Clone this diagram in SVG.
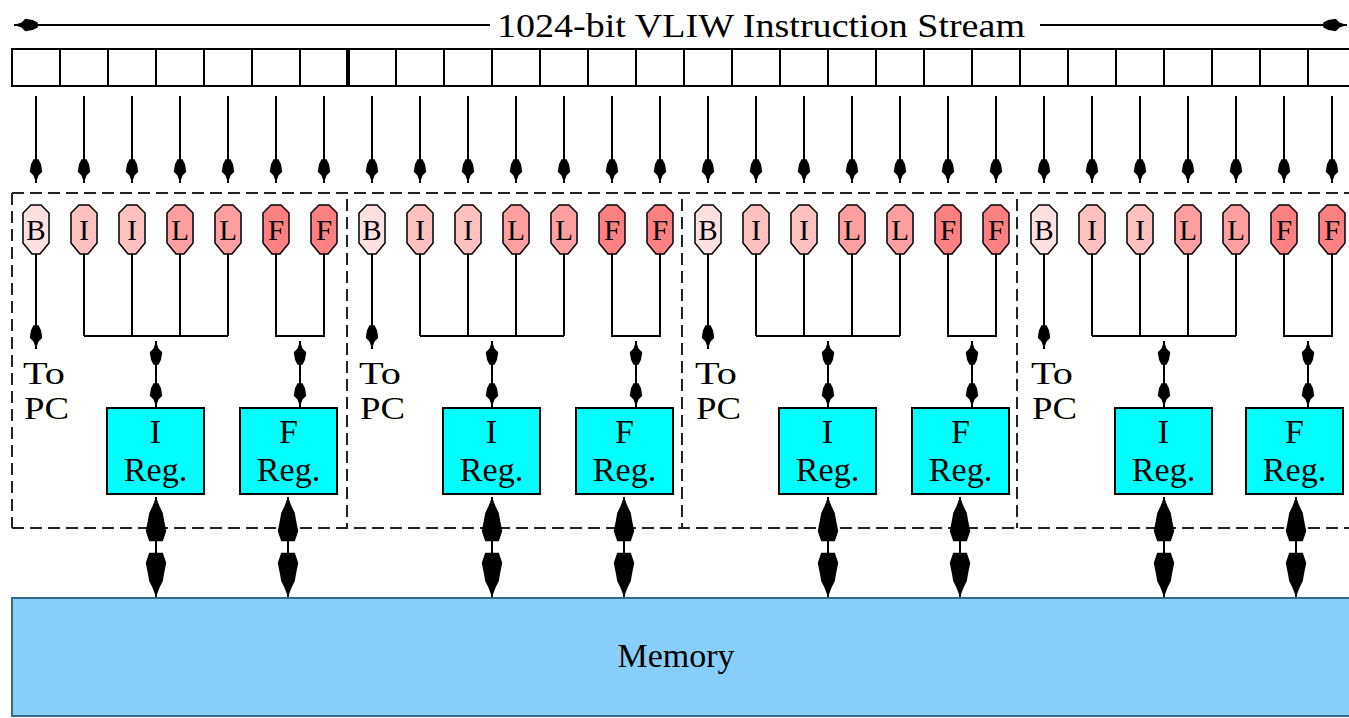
<svg xmlns="http://www.w3.org/2000/svg" xmlns:xlink="http://www.w3.org/1999/xlink" width="1349" height="718" viewBox="0 0 1349 718">
<style>
.ln{stroke:#000;stroke-width:2;fill:none}
.dash{stroke:#222;stroke-width:2;fill:none;stroke-dasharray:12 6}
.t{font-family:"Liberation Serif","Times New Roman",serif;fill:#000}
.pc{font-family:"Liberation Serif","Times New Roman",serif;fill:#000;font-size:31px}
.ov{stroke:#000;stroke-width:1.5}
.B{fill:#ffe0e0}.I{fill:#ffc0c0}.L{fill:#ffa0a0}.F{fill:#ff8080}
.reg{fill:#00ffff;stroke:#000;stroke-width:2}
.sa{marker-end:url(#sm)}
.da{marker-start:url(#sm);marker-end:url(#sm)}
.ba{marker-start:url(#bg);marker-end:url(#bg)}
</style>
<defs>
<marker id="sm" markerUnits="userSpaceOnUse" orient="auto-start-reverse" refX="0" refY="0" markerWidth="30" markerHeight="20" viewBox="-22 -8 24 16" overflow="visible">
<path d="M0,0 L-6,-2 L-9,-5 L-15,-4 L-19,-2 L-19,2 L-15,4 L-9,5 L-6,2 Z" fill="#000"/>
</marker>
<marker id="bg" markerUnits="userSpaceOnUse" orient="auto-start-reverse" refX="0" refY="0" markerWidth="50" markerHeight="30" viewBox="-42 -12 44 24" overflow="visible">
<path d="M0,0 L-8,-3 L-14,-6 L-20,-7 L-30,-9 L-39,-6 L-39,6 L-30,9 L-20,7 L-14,6 L-8,3 Z" fill="#000"/>
</marker>
<polygon id="oct" points="-5,-24 5,-24 13,-16 13,14 4,25 -4,25 -13,14 -13,-16"/>
</defs>
<rect width="1349" height="718" fill="#fff"/>

<g id="title">
<line class="ln" x1="14" y1="25" x2="490" y2="25" marker-start="url(#sm)"/>
<line class="ln" x1="1040" y1="25" x2="1347" y2="25" marker-end="url(#sm)"/>
<text class="t" x="761" y="37" font-size="34" text-anchor="middle" textLength="528" lengthAdjust="spacingAndGlyphs">1024-bit VLIW Instruction Stream</text>
</g>

<g id="instruction-stream">
<rect class="ln" x="12" y="49" width="1345" height="37"/>
<path class="ln" d="M60,49V86M108,49V86M156,49V86M204,49V86M252,49V86M300,49V86M396,49V86M444,49V86M492,49V86M540,49V86M588,49V86M636,49V86M684,49V86M732,49V86M780,49V86M828,49V86M876,49V86M924,49V86M972,49V86M1020,49V86M1068,49V86M1116,49V86M1164,49V86M1212,49V86M1260,49V86M1308,49V86"/>
<line x1="348" y1="49" x2="348" y2="86" stroke="#000" stroke-width="4"/>
</g>

<g id="unit-frames">
<path class="dash" d="M12,193H1349M12,528H1349"/>
<path class="dash" d="M12,193V528M347,199V528M682,199V528M1017,199V528"/>
</g>

<g id="connectors">
<g id="stream-arrows">
<line class="ln sa" x1="36" y1="96" x2="36" y2="183"/><line class="ln sa" x1="84" y1="96" x2="84" y2="183"/><line class="ln sa" x1="132" y1="96" x2="132" y2="183"/><line class="ln sa" x1="180" y1="96" x2="180" y2="183"/><line class="ln sa" x1="228" y1="96" x2="228" y2="183"/><line class="ln sa" x1="276" y1="96" x2="276" y2="183"/><line class="ln sa" x1="324" y1="96" x2="324" y2="183"/>
<line class="ln sa" x1="372" y1="96" x2="372" y2="183"/><line class="ln sa" x1="420" y1="96" x2="420" y2="183"/><line class="ln sa" x1="468" y1="96" x2="468" y2="183"/><line class="ln sa" x1="516" y1="96" x2="516" y2="183"/><line class="ln sa" x1="564" y1="96" x2="564" y2="183"/><line class="ln sa" x1="612" y1="96" x2="612" y2="183"/><line class="ln sa" x1="660" y1="96" x2="660" y2="183"/>
<line class="ln sa" x1="708" y1="96" x2="708" y2="183"/><line class="ln sa" x1="756" y1="96" x2="756" y2="183"/><line class="ln sa" x1="804" y1="96" x2="804" y2="183"/><line class="ln sa" x1="852" y1="96" x2="852" y2="183"/><line class="ln sa" x1="900" y1="96" x2="900" y2="183"/><line class="ln sa" x1="948" y1="96" x2="948" y2="183"/><line class="ln sa" x1="996" y1="96" x2="996" y2="183"/>
<line class="ln sa" x1="1044" y1="96" x2="1044" y2="183"/><line class="ln sa" x1="1092" y1="96" x2="1092" y2="183"/><line class="ln sa" x1="1140" y1="96" x2="1140" y2="183"/><line class="ln sa" x1="1188" y1="96" x2="1188" y2="183"/><line class="ln sa" x1="1236" y1="96" x2="1236" y2="183"/><line class="ln sa" x1="1284" y1="96" x2="1284" y2="183"/><line class="ln sa" x1="1332" y1="96" x2="1332" y2="183"/>
</g>
<g id="unit-wiring">
<line class="ln sa" x1="36" y1="254" x2="36" y2="349"/>
<path class="ln" d="M84,254V336M132,254V336M180,254V336M228,254V336M84,336H228M276,254V336H324V254"/>
<line class="ln da" x1="156" y1="341" x2="156" y2="407"/>
<line class="ln da" x1="300" y1="341" x2="300" y2="407"/>
<line class="ln ba" x1="156" y1="497" x2="156" y2="597"/>
<line class="ln ba" x1="288" y1="497" x2="288" y2="597"/>
<line class="ln sa" x1="372" y1="254" x2="372" y2="349"/>
<path class="ln" d="M420,254V336M468,254V336M516,254V336M564,254V336M420,336H564M612,254V336H660V254"/>
<line class="ln da" x1="492" y1="341" x2="492" y2="407"/>
<line class="ln da" x1="636" y1="341" x2="636" y2="407"/>
<line class="ln ba" x1="492" y1="497" x2="492" y2="597"/>
<line class="ln ba" x1="624" y1="497" x2="624" y2="597"/>
<line class="ln sa" x1="708" y1="254" x2="708" y2="349"/>
<path class="ln" d="M756,254V336M804,254V336M852,254V336M900,254V336M756,336H900M948,254V336H996V254"/>
<line class="ln da" x1="828" y1="341" x2="828" y2="407"/>
<line class="ln da" x1="972" y1="341" x2="972" y2="407"/>
<line class="ln ba" x1="828" y1="497" x2="828" y2="597"/>
<line class="ln ba" x1="960" y1="497" x2="960" y2="597"/>
<line class="ln sa" x1="1044" y1="254" x2="1044" y2="349"/>
<path class="ln" d="M1092,254V336M1140,254V336M1188,254V336M1236,254V336M1092,336H1236M1284,254V336H1332V254"/>
<line class="ln da" x1="1164" y1="341" x2="1164" y2="407"/>
<line class="ln da" x1="1308" y1="341" x2="1308" y2="407"/>
<line class="ln ba" x1="1164" y1="497" x2="1164" y2="597"/>
<line class="ln ba" x1="1296" y1="497" x2="1296" y2="597"/>
</g>
</g>

<g id="unit-0">
<g class="ov"><use href="#oct" x="36" y="229" class="B"/><use href="#oct" x="84" y="229" class="I"/><use href="#oct" x="132" y="229" class="I"/><use href="#oct" x="180" y="229" class="L"/><use href="#oct" x="228" y="229" class="L"/><use href="#oct" x="276" y="229" class="F"/><use href="#oct" x="324" y="229" class="F"/></g>
<g class="t" font-size="29" text-anchor="middle"><text x="36" y="240">B</text><text x="84" y="240">I</text><text x="132" y="240">I</text><text x="180" y="240">L</text><text x="228" y="240">L</text><text x="276" y="240">F</text><text x="324" y="240">F</text></g>
<text class="pc" x="23" y="384" textLength="42" lengthAdjust="spacingAndGlyphs">To</text><text class="pc" x="24" y="419" textLength="45" lengthAdjust="spacingAndGlyphs">PC</text>
<g id="ireg-0"><rect class="reg" x="107" y="408" width="97" height="86"/><text class="t" x="155.5" y="443" font-size="34" text-anchor="middle">I</text><text class="t" x="155.5" y="481" font-size="34" text-anchor="middle">Reg.</text></g>
<g id="freg-0"><rect class="reg" x="240" y="408" width="97" height="86"/><text class="t" x="288.5" y="443" font-size="34" text-anchor="middle">F</text><text class="t" x="288.5" y="481" font-size="34" text-anchor="middle">Reg.</text></g>
</g>

<g id="unit-1">
<g class="ov"><use href="#oct" x="372" y="229" class="B"/><use href="#oct" x="420" y="229" class="I"/><use href="#oct" x="468" y="229" class="I"/><use href="#oct" x="516" y="229" class="L"/><use href="#oct" x="564" y="229" class="L"/><use href="#oct" x="612" y="229" class="F"/><use href="#oct" x="660" y="229" class="F"/></g>
<g class="t" font-size="29" text-anchor="middle"><text x="372" y="240">B</text><text x="420" y="240">I</text><text x="468" y="240">I</text><text x="516" y="240">L</text><text x="564" y="240">L</text><text x="612" y="240">F</text><text x="660" y="240">F</text></g>
<text class="pc" x="359" y="384" textLength="42" lengthAdjust="spacingAndGlyphs">To</text><text class="pc" x="360" y="419" textLength="45" lengthAdjust="spacingAndGlyphs">PC</text>
<g id="ireg-1"><rect class="reg" x="443" y="408" width="97" height="86"/><text class="t" x="491.5" y="443" font-size="34" text-anchor="middle">I</text><text class="t" x="491.5" y="481" font-size="34" text-anchor="middle">Reg.</text></g>
<g id="freg-1"><rect class="reg" x="576" y="408" width="97" height="86"/><text class="t" x="624.5" y="443" font-size="34" text-anchor="middle">F</text><text class="t" x="624.5" y="481" font-size="34" text-anchor="middle">Reg.</text></g>
</g>

<g id="unit-2">
<g class="ov"><use href="#oct" x="708" y="229" class="B"/><use href="#oct" x="756" y="229" class="I"/><use href="#oct" x="804" y="229" class="I"/><use href="#oct" x="852" y="229" class="L"/><use href="#oct" x="900" y="229" class="L"/><use href="#oct" x="948" y="229" class="F"/><use href="#oct" x="996" y="229" class="F"/></g>
<g class="t" font-size="29" text-anchor="middle"><text x="708" y="240">B</text><text x="756" y="240">I</text><text x="804" y="240">I</text><text x="852" y="240">L</text><text x="900" y="240">L</text><text x="948" y="240">F</text><text x="996" y="240">F</text></g>
<text class="pc" x="695" y="384" textLength="42" lengthAdjust="spacingAndGlyphs">To</text><text class="pc" x="696" y="419" textLength="45" lengthAdjust="spacingAndGlyphs">PC</text>
<g id="ireg-2"><rect class="reg" x="779" y="408" width="97" height="86"/><text class="t" x="827.5" y="443" font-size="34" text-anchor="middle">I</text><text class="t" x="827.5" y="481" font-size="34" text-anchor="middle">Reg.</text></g>
<g id="freg-2"><rect class="reg" x="912" y="408" width="97" height="86"/><text class="t" x="960.5" y="443" font-size="34" text-anchor="middle">F</text><text class="t" x="960.5" y="481" font-size="34" text-anchor="middle">Reg.</text></g>
</g>

<g id="unit-3">
<g class="ov"><use href="#oct" x="1044" y="229" class="B"/><use href="#oct" x="1092" y="229" class="I"/><use href="#oct" x="1140" y="229" class="I"/><use href="#oct" x="1188" y="229" class="L"/><use href="#oct" x="1236" y="229" class="L"/><use href="#oct" x="1284" y="229" class="F"/><use href="#oct" x="1332" y="229" class="F"/></g>
<g class="t" font-size="29" text-anchor="middle"><text x="1044" y="240">B</text><text x="1092" y="240">I</text><text x="1140" y="240">I</text><text x="1188" y="240">L</text><text x="1236" y="240">L</text><text x="1284" y="240">F</text><text x="1332" y="240">F</text></g>
<text class="pc" x="1031" y="384" textLength="42" lengthAdjust="spacingAndGlyphs">To</text><text class="pc" x="1032" y="419" textLength="45" lengthAdjust="spacingAndGlyphs">PC</text>
<g id="ireg-3"><rect class="reg" x="1115" y="408" width="97" height="86"/><text class="t" x="1163.5" y="443" font-size="34" text-anchor="middle">I</text><text class="t" x="1163.5" y="481" font-size="34" text-anchor="middle">Reg.</text></g>
<g id="freg-3"><rect class="reg" x="1246" y="408" width="97" height="86"/><text class="t" x="1294.5" y="443" font-size="34" text-anchor="middle">F</text><text class="t" x="1294.5" y="481" font-size="34" text-anchor="middle">Reg.</text></g>
</g>

<g id="memory">
<rect x="12" y="598" width="1345" height="118" fill="#87cefa" stroke="#3a6a8a" stroke-width="2"/>
<text class="t" x="676" y="667" font-size="34" text-anchor="middle">Memory</text>
</g>
</svg>
